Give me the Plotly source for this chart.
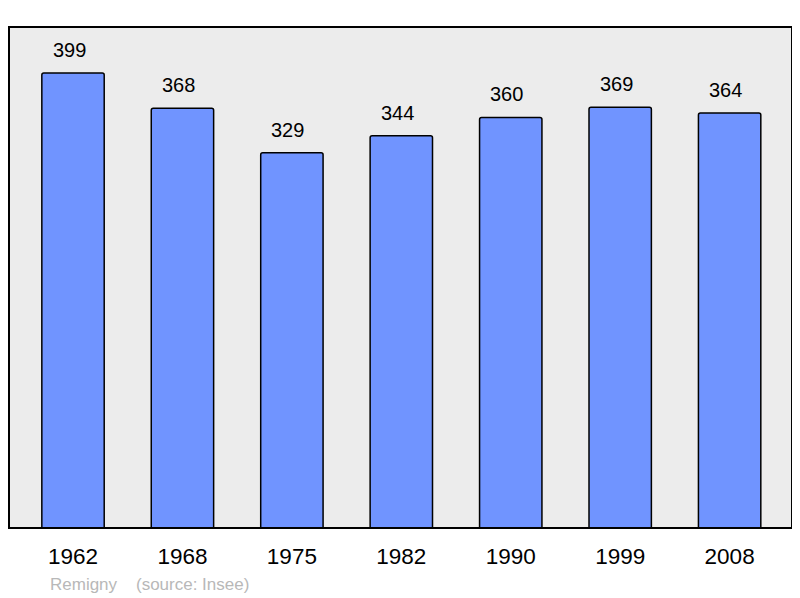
import plotly.graph_objects as go

years = ["1962", "1968", "1975", "1982", "1990", "1999", "2008"]
population = [399, 368, 329, 344, 360, 369, 364]

fig = go.Figure()

fig.add_trace(go.Bar(
    x=years,
    y=population,
    width=0.57,
    marker=dict(color="#7094ff", line=dict(color="black", width=1.5), cornerradius=2),
    hoverinfo="x+y",
))

# value labels above each bar (x as category index, numeric-looking names confuse annotations)
for i, val in enumerate(population):
    fig.add_annotation(
        x=i, y=val, text=str(val), showarrow=False,
        yanchor="bottom", yshift=10, xshift=-4,
        font=dict(family="Liberation Sans, Arial", size=20, color="black"),
    )

fig.add_annotation(
    xref="paper", yref="paper", x=0.05, y=-0.112, xanchor="left", yanchor="middle",
    text="Remigny    (source: Insee)", showarrow=False,
    font=dict(family="Liberation Sans, Arial", size=17, color="#b8b8b8"),
)

# frame around the plot area
fig.add_shape(
    type="rect", xref="paper", yref="paper", x0=0, x1=1, y0=0, y1=1,
    line=dict(color="black", width=2), layer="above",
)

# page body has an 8px margin, so the figure is made 8px smaller to fit the window
fig.update_layout(
    width=792, height=590,
    margin=dict(l=1, r=8, t=19, b=70),
    plot_bgcolor="#ececec",
    paper_bgcolor="white",
    showlegend=False,
    xaxis=dict(
        type="category",
        range=[-0.585, 6.57],
        showline=False,
        ticks="outside", ticklen=8, tickcolor="rgba(0,0,0,0)",
        tickfont=dict(family="Liberation Sans, Arial", size=22.5, color="black"),
        showgrid=False, zeroline=False,
    ),
    yaxis=dict(
        range=[0, 439.3],
        showline=False,
        showticklabels=False, ticks="", showgrid=False, zeroline=False,
    ),
)

fig.write_html("out.html")
